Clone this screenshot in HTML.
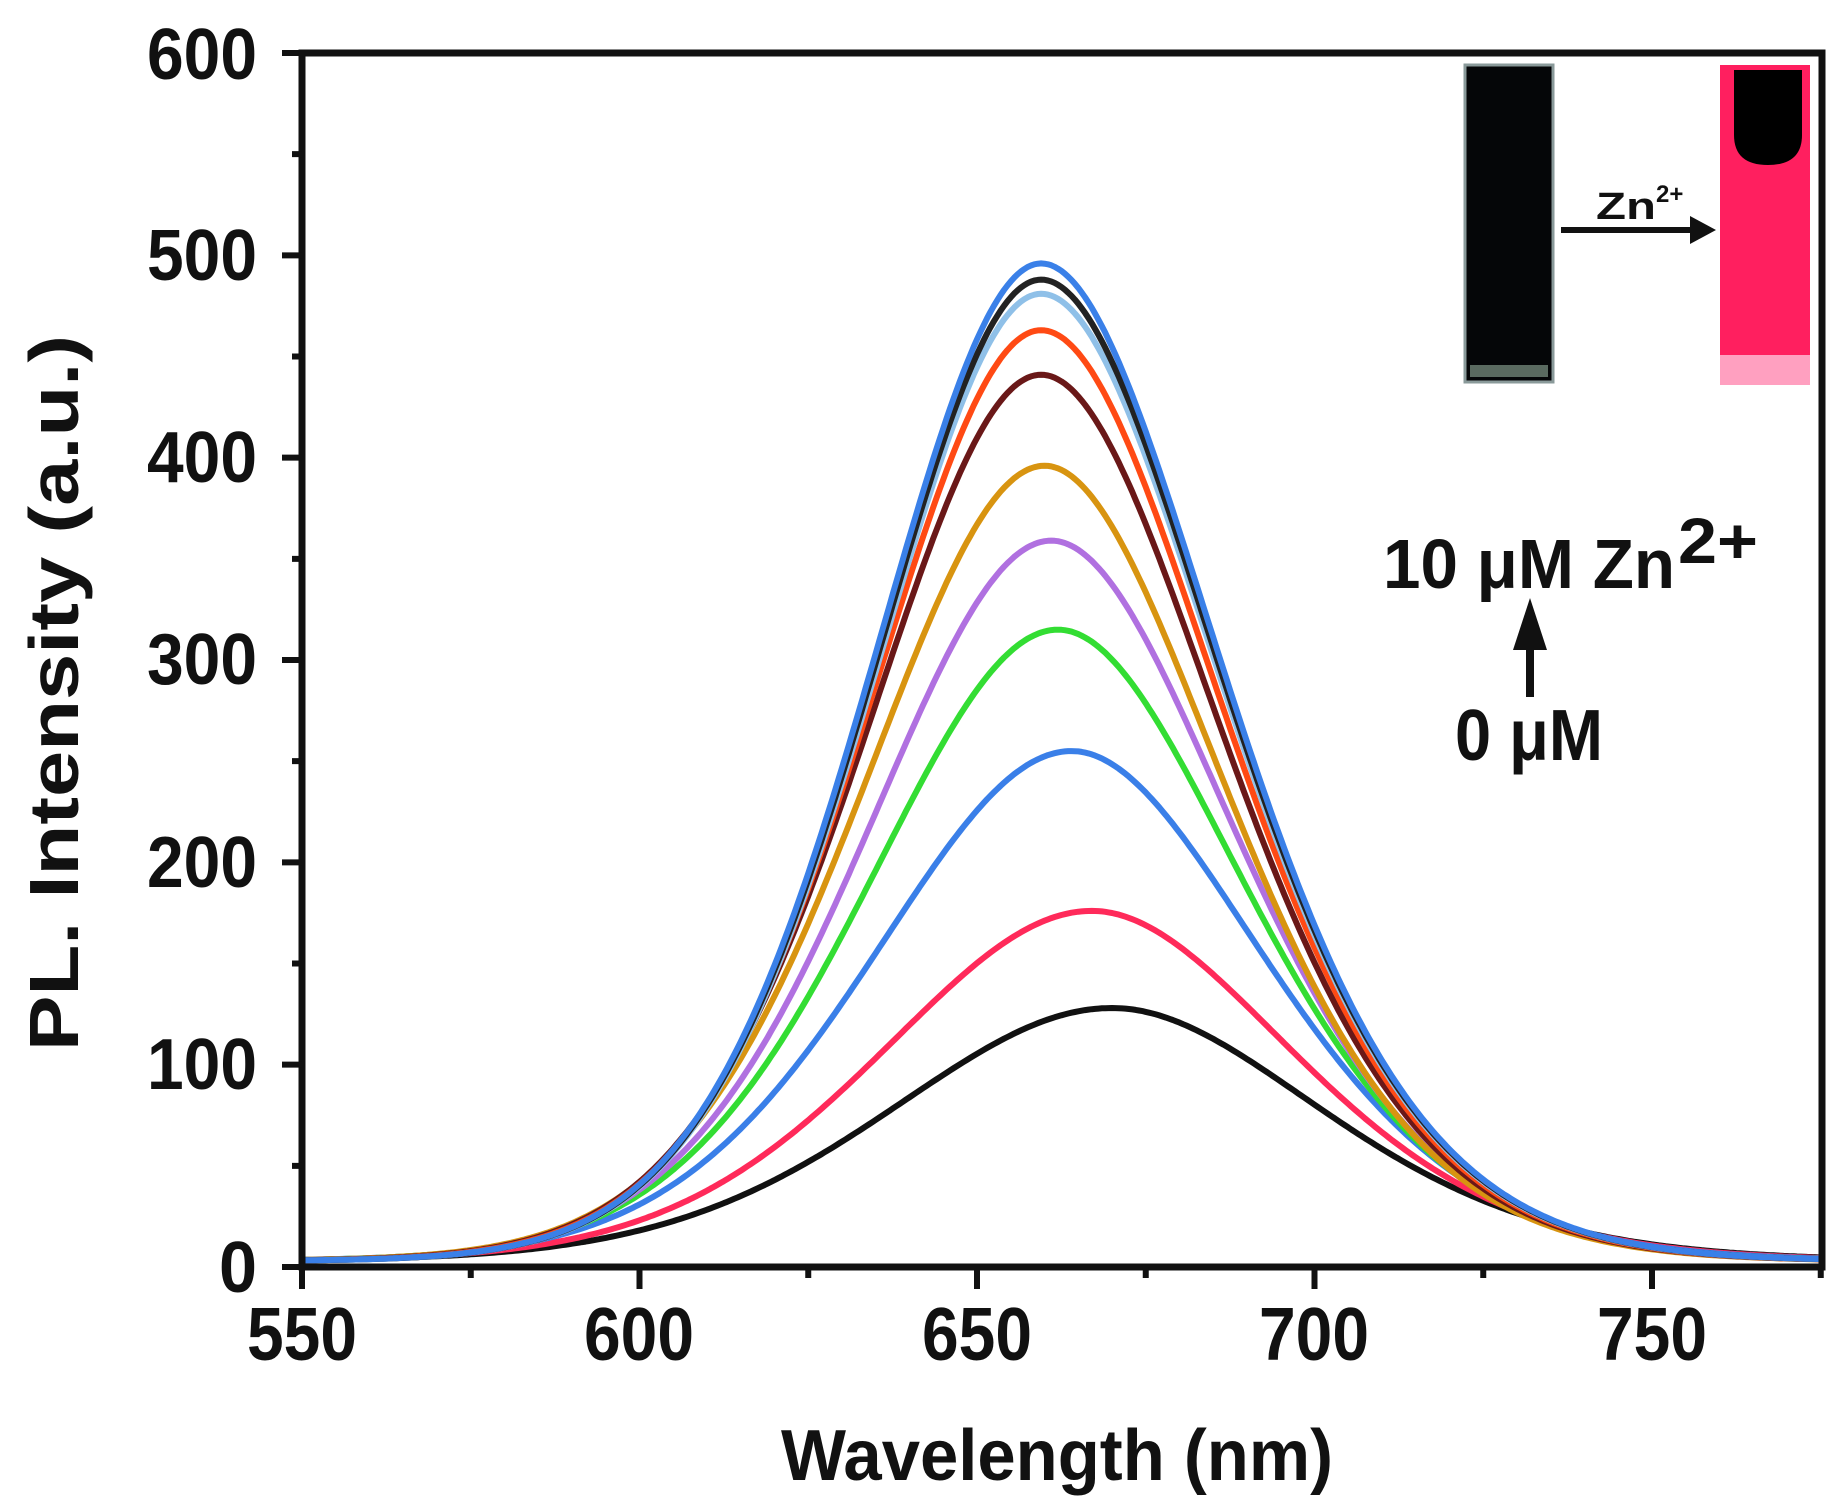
<!DOCTYPE html>
<html><head><meta charset="utf-8"><style>
html,body{margin:0;padding:0;background:#fff;}
svg{display:block;}
text{font-family:"Liberation Sans",sans-serif;font-weight:bold;fill:#111;}
</style></head><body>
<svg id="s" width="1841" height="1512" viewBox="0 0 1841 1512" xmlns="http://www.w3.org/2000/svg">
<g id="curves"></g>
<rect x="302" y="53" width="1520" height="1214" fill="none" stroke="#111" stroke-width="7"/>
<g id="ticks" stroke="#111" stroke-width="6"></g>
<g font-size="72" text-anchor="end">
<text x="257" y="79" textLength="110" lengthAdjust="spacingAndGlyphs">600</text>
<text x="257" y="280" textLength="110" lengthAdjust="spacingAndGlyphs">500</text>
<text x="257" y="482" textLength="110" lengthAdjust="spacingAndGlyphs">400</text>
<text x="257" y="684" textLength="110" lengthAdjust="spacingAndGlyphs">300</text>
<text x="257" y="887" textLength="110" lengthAdjust="spacingAndGlyphs">200</text>
<text x="257" y="1089" textLength="110" lengthAdjust="spacingAndGlyphs">100</text>
<text x="257" y="1292" textLength="38" lengthAdjust="spacingAndGlyphs">0</text>
</g>
<g font-size="75" text-anchor="middle">
<text x="302" y="1360" textLength="110" lengthAdjust="spacingAndGlyphs">550</text>
<text x="639" y="1360" textLength="110" lengthAdjust="spacingAndGlyphs">600</text>
<text x="977" y="1360" textLength="110" lengthAdjust="spacingAndGlyphs">650</text>
<text x="1314" y="1360" textLength="110" lengthAdjust="spacingAndGlyphs">700</text>
<text x="1652" y="1360" textLength="110" lengthAdjust="spacingAndGlyphs">750</text>
</g>
<text x="1057" y="1480" font-size="72" text-anchor="middle" textLength="552" lengthAdjust="spacingAndGlyphs">Wavelength (nm)</text>
<text transform="translate(78,693) rotate(-90)" font-size="70" text-anchor="middle" textLength="716" lengthAdjust="spacingAndGlyphs">PL. Intensity (a.u.)</text>
<text x="1383" y="588" font-size="70" textLength="292" lengthAdjust="spacingAndGlyphs">10 μM Zn</text>
<text x="1678" y="563" font-size="64" textLength="80" lengthAdjust="spacingAndGlyphs">2+</text>
<line x1="1530" y1="640" x2="1530" y2="697" stroke="#111" stroke-width="8"/>
<polygon points="1530,598 1513,650 1547,650" fill="#111"/>
<text x="1455" y="760" font-size="72" textLength="148" lengthAdjust="spacingAndGlyphs">0 μM</text>
<rect x="1465" y="65" width="88" height="317" fill="#050608" stroke="#8a9a9a" stroke-width="3"/>
<rect x="1470" y="365" width="78" height="12" fill="#5a6a60"/>
<rect x="1720" y="65" width="90" height="320" fill="#ff1f5f"/>
<rect x="1720" y="355" width="90" height="30" fill="#ffa0c0"/>
<path d="M1734,70 H1802 V135 Q1802,165 1768,165 Q1734,165 1734,135 Z" fill="#000"/>
<line x1="1561" y1="230" x2="1695" y2="230" stroke="#111" stroke-width="6"/>
<polygon points="1716,230 1690,216 1690,244" fill="#111"/>
<text x="1596" y="219" font-size="38" textLength="60" lengthAdjust="spacingAndGlyphs">Zn</text>
<text x="1656" y="202" font-size="24">2+</text>
</svg>
<script>
var X=function(w){return 302+(w-550)*6.75;},Y=function(v){return 1267-v*2.0233;};
var series=[
 [125,670,38,36,'#111111'],
 [173,667,36,34.5,'#ff2a5a'],
 [252,664,34,33,'#3a7fe8'],
 [312,662,32.5,32,'#33dd33'],
 [356,661,31.5,31.5,'#b070e0'],
 [393,660,31,31,'#d89410'],
 [438,659.5,30,31,'#6a1818'],
 [460,659.5,29.5,31,'#ff4a14'],
 [478,659.5,29,31,'#8fc0e8'],
 [485,659.5,29,31,'#222222'],
 [493,659.5,29,31,'#3a80e8']
];
var g=document.getElementById('curves'),ns='http://www.w3.org/2000/svg';
series.forEach(function(s){
 var A=s[0],c=s[1],d='';
 for(var w=550;w<=775;w+=0.5){
  var left=w<c,h=left?s[2]*0.95:s[3]*0.92,k=left?0.12:0.2,u=Math.abs((w-c)/h);
  var f=Math.exp(-Math.LN2*u*u/(1+k*u));
  var v=A*f+3;
  d+=(d?'L':'M')+X(w).toFixed(1)+','+Y(v).toFixed(1);
 }
 var pp=document.createElementNS(ns,'path');
 pp.setAttribute('d',d);pp.setAttribute('fill','none');pp.setAttribute('stroke',s[4]);
 pp.setAttribute('stroke-width','6');pp.setAttribute('stroke-linejoin','round');
 g.appendChild(pp);
});
var t=document.getElementById('ticks'),d='';
for(var v=0;v<=600;v+=50){var y=Y(v),L=(v%100==0)?20:10;d+='M'+(302-L)+','+y+'H302';}
for(var w=550;w<=775;w+=25){var x=X(w),L=(w%50==0)?22:11;d+='M'+x+',1267V'+(1267+L);}
var p=document.createElementNS(ns,'path');p.setAttribute('d',d);t.appendChild(p);
</script>
</body></html>
